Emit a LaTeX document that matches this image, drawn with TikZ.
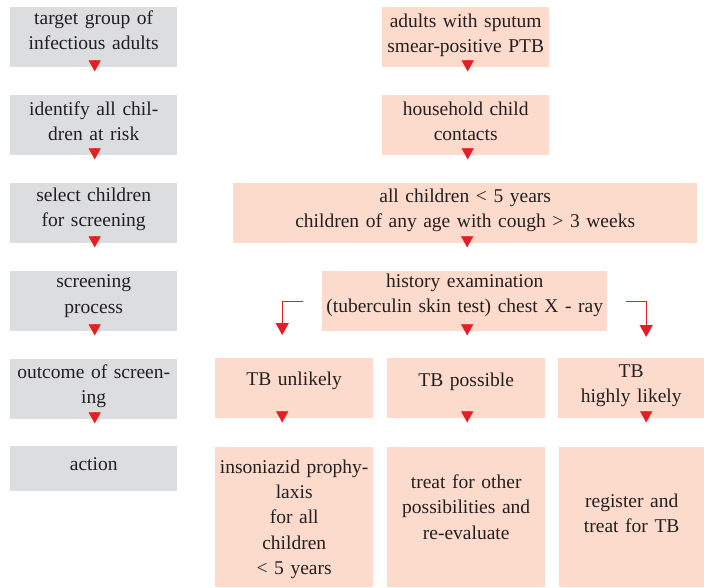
\documentclass[tikz,border=0pt]{standalone}
\usepackage{fontspec}
\setmainfont[WordSpace=1.35]{Liberation Serif}
\usetikzlibrary{arrows.meta}
\definecolor{boxgrey}{HTML}{DCDDDF}
\definecolor{boxpink}{HTML}{FCDBCD}
\definecolor{tipred}{HTML}{E31E24}
\definecolor{inkgrey}{HTML}{231F20}
\tikzset{
  stage/.style={fill=boxgrey, inner sep=0pt, anchor=north west},
  item/.style={fill=boxpink, inner sep=0pt, anchor=north west},
  caption/.style={align=center, inner sep=0pt, anchor=north, text=inkgrey,
    font=\fontsize{19.5}{25.2}\selectfont},
  down/.style={-{Triangle[length=11pt,width=12pt]}, tipred, line width=0.1pt},
  branch/.style={-{Triangle[length=12pt,width=13pt]}, tipred, line width=1.3pt}
}
\begin{document}
\begin{tikzpicture}[x=1pt, y=-1pt]
    \useasboundingbox (0,0) rectangle (704,587);
    % left column
    \node[stage, minimum width=167pt, minimum height=60pt] (s1) at (10,7) {};
    \node[stage, minimum width=167pt, minimum height=60pt] (s2) at (10,95) {};
    \node[stage, minimum width=167pt, minimum height=60pt] (s3) at (10,183) {};
    \node[stage, minimum width=167pt, minimum height=60pt] (s4) at (10,271) {};
    \node[stage, minimum width=167pt, minimum height=60pt] (s5) at (10,359) {};
    \node[stage, minimum width=167pt, minimum height=45pt] (s6) at (10,446) {};
    \node[caption] (s1t) at ([yshift=-3.7pt]s1.north) {target group of\\infectious adults};
    \node[caption] (s2t) at ([yshift=-6.7pt]s2.north) {identify all chil-\\dren at risk};
    \node[caption] (s3t) at ([yshift=-4.7pt]s3.north) {select children\\for screening};
    \node[caption] (s4t) at ([yshift=-3.7pt]s4.north) {screening\\process};
    \node[caption] (s5t) at ([yshift=-5.7pt]s5.north) {outcome of screen-\\ing};
    \node[caption] (s6t) at ([yshift=-11.7pt]s6.north) {action};
    % right side
    \node[item, minimum width=167pt, minimum height=60pt] (adult) at (382,7) {};
    \node[item, minimum width=167pt, minimum height=60pt] (house) at (382,95) {};
    \node[item, minimum width=464pt, minimum height=60pt] (select) at (233,183) {};
    \node[item, minimum width=285pt, minimum height=60pt] (hist) at (322,271) {};
    \node[item, minimum width=158pt, minimum height=60pt] (unl) at (215,358) {};
    \node[item, minimum width=158pt, minimum height=60pt] (pos) at (387,358) {};
    \node[item, minimum width=146pt, minimum height=60pt] (hi) at (558,358) {};
    \node[item, minimum width=158pt, minimum height=140pt] (proph) at (215,447) {};
    \node[item, minimum width=158pt, minimum height=140pt] (other) at (387,447) {};
    \node[item, minimum width=145pt, minimum height=140pt] (treat) at (559,447) {};
    \node[caption] (adultt) at ([yshift=-6.7pt]adult.north) {adults with sputum\\smear-positive PTB};
    \node[caption] (houset) at ([yshift=-6.7pt]house.north) {household child\\contacts};
    \node[caption] (selectt) at ([yshift=-5.7pt]select.north) {all children < 5 years\\children of any age with cough > 3 weeks};
    \node[caption] (histt) at ([yshift=-2.7pt]hist.north) {history examination\\(tuberculin skin test) chest X - ray};
    \node[caption] (unlt) at ([yshift=-13.7pt]unl.north) {TB unlikely};
    \node[caption] (post) at ([yshift=-14.7pt]pos.north) {TB possible};
    \node[caption] (hit) at ([yshift=-6.7pt]hi.north) {TB\\highly likely};
    \node[caption] (propht) at ([yshift=-12.7pt]proph.north) {insoniazid prophy-\\laxis\\for all\\children\\< 5 years};
    \node[caption] (othert) at ([yshift=-27.7pt]other.north) {treat for other\\possibilities and\\re-evaluate};
    \node[caption] (treatt) at ([yshift=-46.7pt]treat.north) {register and\\treat for TB};
    % red markers
    \foreach \b/\dx in {s1/1, s2/1, s3/1, s4/1, s5/1, adult/2, house/2, select/2, hist/2.5, unl/-12, pos/1, hi/15}
        \draw[down] ([xshift=\dx pt, yshift=7pt]\b.south) -- ([xshift=\dx pt, yshift=-4pt]\b.south);
    \draw[branch] ([xshift=-19pt]hist.west) -| ([xshift=-12pt, yshift=23pt]unl.north);
    \draw[branch] ([xshift=19pt]hist.east) -| ([xshift=15pt, yshift=21pt]hi.north);
\end{tikzpicture}
\end{document}
